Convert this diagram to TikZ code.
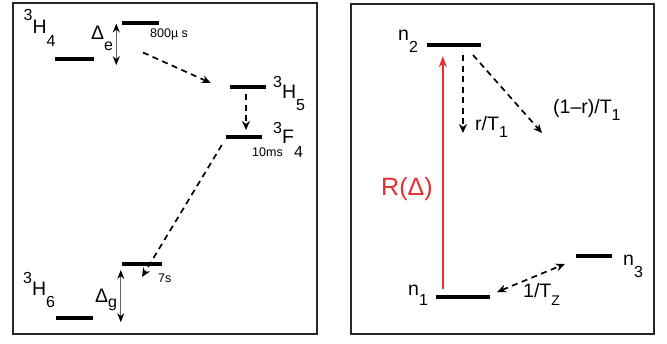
\documentclass[tikz,border=0pt]{standalone}
\usepackage{fontspec}
\setmainfont{Liberation Sans}
\usetikzlibrary{arrows.meta}
\definecolor{redarr}{RGB}{232,45,48}
\definecolor{boxc}{RGB}{40,40,40}
\definecolor{gapc}{RGB}{100,100,100}
\newcommand\mysup[2][12pt]{\raisebox{#1}{\fontsize{16}{16}\selectfont #2}}
\newcommand\mysub[2][-13pt]{\raisebox{#1}{\fontsize{16}{16}\selectfont #2}}
\begin{document}
\begin{tikzpicture}[x=1pt,y=-1pt,
  level/.style={fill=black, inner sep=0pt, minimum height=4pt, draw=none},
  lab/.style={anchor=base west, inner sep=0pt, font=\fontsize{19.5}{19.5}\selectfont},
  small/.style={anchor=base west, inner sep=0pt, font=\fontsize{12.5}{12.5}\selectfont},
  dasharr/.style={-{Stealth[length=9pt,width=8pt]}, line width=1.7pt, dash pattern=on 6pt off 4.5pt},
  dasharr2/.style={{Stealth[length=9pt,width=8pt]}-{Stealth[length=9pt,width=8pt]}, line width=1.7pt, dash pattern=on 6pt off 4.5pt},
  gaparr/.style={{Stealth[length=9pt,width=7pt,color=black]}-{Stealth[length=9pt,width=7pt,color=black]}, line width=1.1pt, draw=gapc},
  redarrow/.style={-{Stealth[length=11pt,width=8pt]}, line width=1.5pt, draw=redarr},
  panel/.style={draw=boxc, line width=2.5pt}]
\useasboundingbox (0,0) rectangle (667,343);
% panels
\draw[panel] (13,3) rectangle (317,334);
\draw[panel] (351,4) rectangle (654,334);

% ---------- left panel levels ----------
\node[level, minimum width=39pt] (h4a) at (74.5,59) {};
\node[level, minimum width=37pt] (h4b) at (140.5,22.5) {};
\node[level, minimum width=36pt] (h5) at (248,87) {};
\node[level, minimum width=36pt] (f4) at (244,137) {};
\node[level, minimum width=40pt] (s7) at (142,264) {};
\node[level, minimum width=37pt] (h6) at (74.5,318) {};

% labels
\node[lab] (lh4) at (23.5,33.5) {\mysup[13pt]{3}H\mysub[-13pt]{4}};
\node[lab] (lh5) at (273,98) {\mysup[11pt]{3}H\mysub[-12pt]{5}};
\node[lab] (lf4) at (273,143) {\mysup[10pt]{3}F\mysub[-14pt]{4}};
\node[lab] (lh6) at (23,295) {\mysup[12pt]{3}H\mysub[-12pt]{6}};
\node[lab] (lde) at (91,39) {Δ\mysub[-11pt]{e}};
\node[lab] (ldg) at (95,302) {Δ\mysub[-5pt]{g}};
\node[small] (t800) at (150,37.5) {800µ s};
\node[small] (t10) at (252,156) {10ms};
\node[small] (t7) at (158,282) {7s};

% arrows left
\draw[gaparr] ([shift={(-5.5,1)}]h4b.west) -- ([shift={(-5.5,4)}]h4b.west |- h4a.south);
\draw[gaparr] ([shift={(-1,6)}]s7.west) -- ([shift={(-1,2)}]s7.west |- h6.south);
\draw[dasharr] ([shift={(2.5,30)}]h4b.center) -- ([shift={(-19,-4)}]h5.west);
\draw[dasharr] ([shift={(-2,7)}]h5.center) -- ([shift={(-2,-7)}]h5.center |- f4.center);
\draw[dasharr] ([shift={(-4,8)}]f4.west) -- ([yshift=-13pt]s7.center);

% ---------- right panel ----------
\node[level, minimum width=54pt] (n2) at (454,45) {};
\node[level, minimum width=54pt] (n1) at (463,297) {};
\node[level, minimum width=36pt] (n3) at (594,256) {};

\node[lab] (ln2) at (398,40) {n\mysub[-12pt]{2}};
\node[lab] (ln1) at (408,295) {n\mysub[-10pt]{1}};
\node[lab] (ln3) at (623,265) {n\mysub[-12pt]{3}};
\node[lab, text=redarr, font=\fontsize{25}{25}\selectfont] (lr) at (381,195) {R(Δ)};
\node[lab] (lr1) at (475,130) {r/T\mysub[-7pt]{1}};
\node[lab] (lr2) at (553,113) {(1–r)/T\mysub[-7pt]{1}};
\node[lab] (ltz) at (523,297) {1/T\mysub[-8pt]{\fontsize{14}{14}\selectfont Z}};

\draw[redarrow] ([shift={(7,-6)}]n1.north west) -- ([shift={(7,9)}]n1.north west |- n2.south);
\draw[dasharr] ([shift={(9,10)}]n2.center) -- ([shift={(9,3)}]n2.center |- lr1.base);
\draw[dasharr] ([shift={(19,10)}]n2.center) -- ([shift={(-11,20)}]lr2.base west);
\draw[dasharr2] ([shift={(7,-5)}]n1.east) -- ([shift={(-11,8)}]n3.west);
\end{tikzpicture}
\end{document}
